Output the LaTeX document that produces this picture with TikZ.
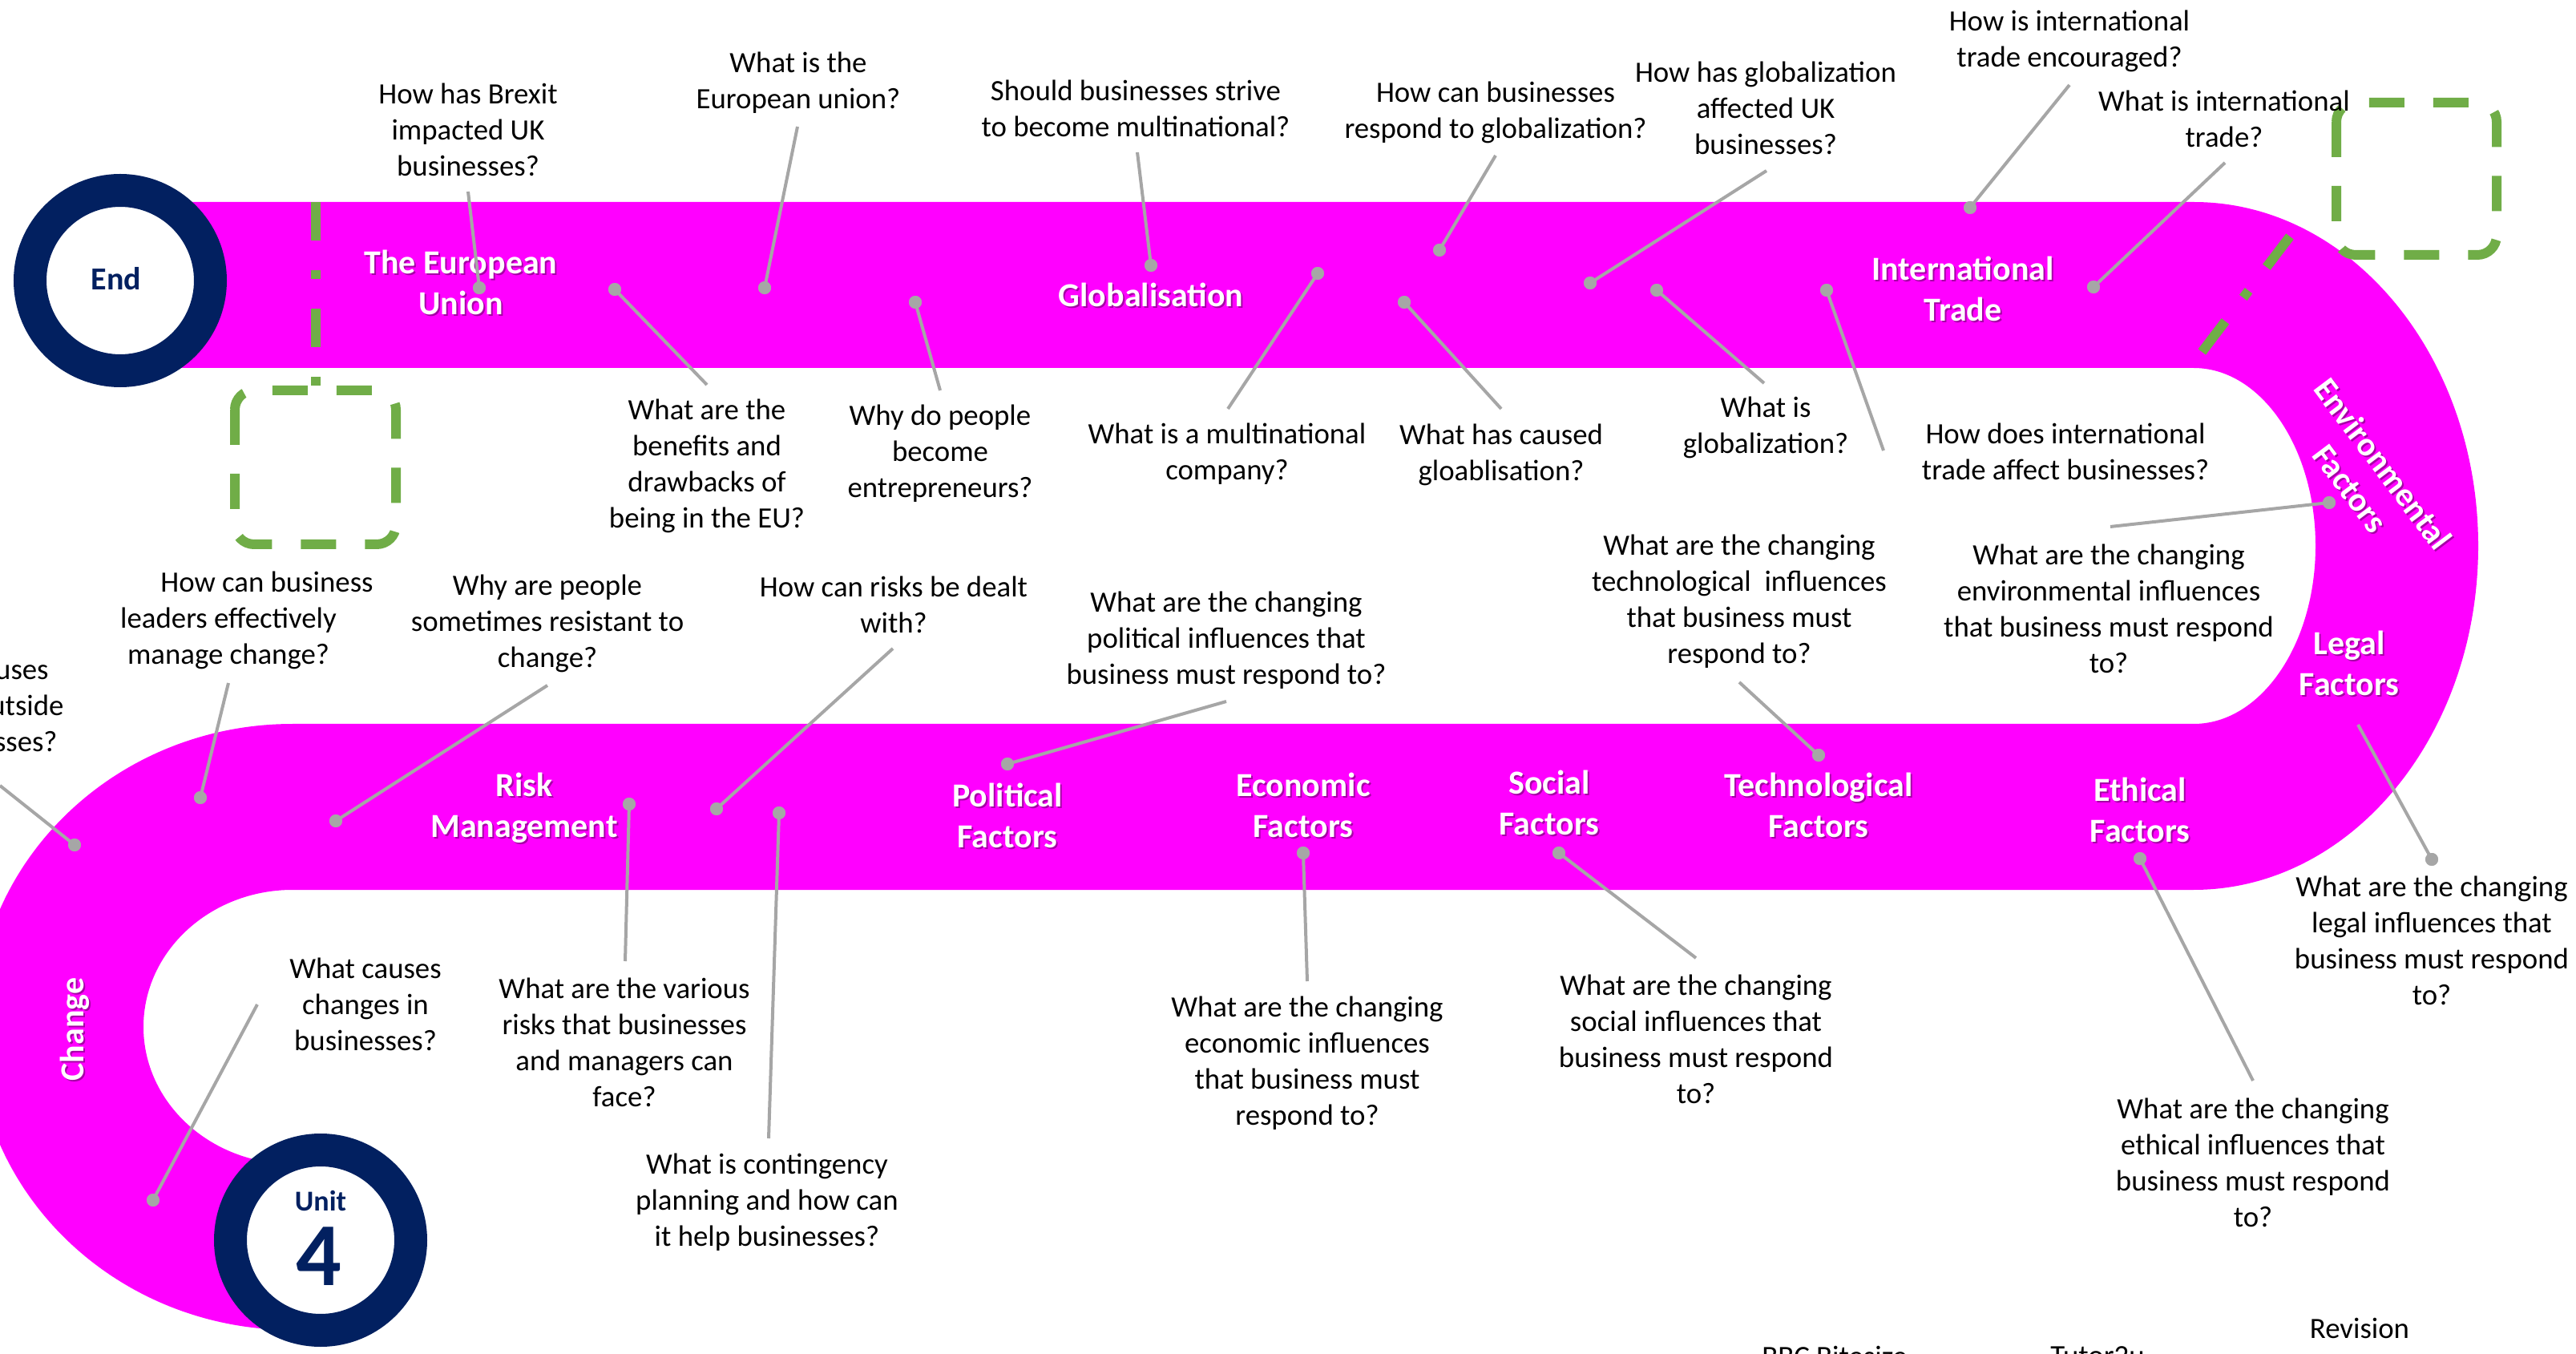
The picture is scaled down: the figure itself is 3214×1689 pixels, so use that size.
\documentclass[tikz,border=0pt]{standalone}
\usepackage{fontspec}
\setmainfont{Carlito}
\usetikzlibrary{calc}
\definecolor{mag}{RGB}{255,0,255}
\definecolor{navy}{RGB}{2,32,96}
\definecolor{lgrey}{RGB}{166,166,166}
\definecolor{ggreen}{RGB}{112,173,71}
\newcommand\qfont{\fontsize{18.4}{22.5}\selectfont}
\newcommand\bfont{\bfseries\fontsize{21}{25.5}\selectfont}
\newcommand\bandlabel[4]{%
  \node[blsh,#3] (#1s) at ($#2+(2,2)$) {#4};
  \node[bl,#3] (#1) at #2 {#4};}
\begin{document}
\begin{tikzpicture}[x=0.5pt,y=-0.5pt,
  q/.style={font=\qfont, align=center, inner sep=0pt, text=black},
  bl/.style={font=\bfont, align=center, inner sep=0pt, text=white},
  blsh/.style={font=\bfont, align=center, inner sep=0pt, text=black, text opacity=0.35},
  conn/.style={draw=lgrey, line width=2pt},
  dotn/.style={circle, fill=lgrey, inner sep=0pt, minimum size=8pt},
  ring/.style={circle, draw=navy, line width=20.5pt, fill=white, minimum size=112.5pt, inner sep=0pt},
  gdd/.style={draw=ggreen, line width=6pt, dash pattern=on 24pt off 18.5pt on 5.5pt off 18.5pt},
  gbox/.style={draw=ggreen, line width=6pt, rounded corners=12pt, dash pattern=on 22pt off 18pt}]
\useasboundingbox (0,0) rectangle (3214,1689);
% road
\fill[mag] (200,252) -- (2737,252) arc[start angle=-90, end angle=90, x radius=355, y radius=429]
  -- (365,1110) arc[start angle=270, end angle=90, x radius=186, y radius=171]
  -- (430,1452) -- (430,1659) -- (365,1659)
  arc[start angle=90, end angle=270, x radius=396, y radius=378]
  -- (2737,903) arc[start angle=90, end angle=-90, x radius=152, y radius=222]
  -- (200,459) -- cycle;
% green markers
\draw[gdd] (394,252) -- (394,487);
\draw[gbox] (293,487) rectangle (494,679);
\draw[gbox] (2915,128) rectangle (3115,318);
\draw[gdd] (2857,295) -- (2745,442);
% end / unit circles
\node[ring] (endc) at (150,350) {};
\node[font=\bfseries\fontsize{20}{24}\selectfont, text=navy, inner sep=0pt] (endt) at (145,348) {End};
\node[ring] (unitc) at (400,1547) {};
\node[font=\bfseries\fontsize{18}{20}\selectfont, text=navy, inner sep=0pt] (unitt) at (400,1498) {Unit};
\node[font=\bfseries\fontsize{56}{60}\selectfont, text=navy, inner sep=0pt] (unit4) at (398,1567) {4};
% band labels
\bandlabel{b1}{(575,352)}{}{The European\\Union}
\bandlabel{b2}{(1436,368)}{}{Globalisation}
\bandlabel{b3}{(2449,360)}{}{International\\Trade}
\bandlabel{b4}{(2953,594)}{rotate=-53}{Environmental\\Factors}
\bandlabel{b5}{(2931,827)}{}{Legal\\Factors}
\bandlabel{b6}{(2670,1010)}{}{Ethical\\Factors}
\bandlabel{b7}{(2269,1004)}{}{Technological\\Factors}
\bandlabel{b8}{(1933,1001)}{}{Social\\Factors}
\bandlabel{b9}{(1626,1004)}{}{Economic\\Factors}
\bandlabel{b10}{(1257,1017)}{}{Political\\Factors}
\bandlabel{b11}{(654,1008)}{}{Risk\\Management}
\bandlabel{b12}{(93,1284)}{rotate=90}{Change}
% questions
\node[q] (q1) at (584,162) {How has Brexit\\impacted UK\\businesses?};
\node[q] (q2) at (996,103) {What is the\\European union?};
\node[q] (q3) at (882,581) {What are the\\benefits and\\drawbacks of\\being in the EU?};
\node[q] (q4) at (1417,135) {Should businesses strive\\to become multinational?};
\node[q] (q5) at (1866,140) {How can businesses\\respond to globalization?};
\node[q] (q6) at (1173,566) {Why do people\\become\\entrepreneurs?};
\node[q] (q7) at (1531,566) {What is a multinational\\company?};
\node[q] (q8) at (1873,567) {What has caused\\gloablisation?};
\node[q] (q9) at (2203,135) {How has globalization\\affected UK\\businesses?};
\node[q] (q10) at (2203,533) {What is\\globalization?};
\node[q] (q11) at (2582,51) {How is international\\trade encouraged?};
\node[q] (q12) at (2775,148) {What is international\\trade?};
\node[q] (q13) at (2577,563) {How does international\\trade affect businesses?};
\node[q] (q14) at (2631,759) {What are the changing\\environmental influences\\that business must respond\\to?};
\node[q] (q15) at (2170,750) {What are the changing\\technological\ \ influences\\that business must\\respond to?};
\node[q] (q16) at (3034,1173) {What are the changing\\legal influences that\\business must respond\\to?};
\node[q] (q17) at (2811,1450) {What are the changing\\ethical influences that\\business must respond\\to?};
\node[q] (q18) at (2116,1296) {What are the changing\\social influences that\\business must respond\\to?};
\node[q] (q19) at (1631,1326) {What are the changing\\economic influences\\that business must\\respond to?};
\node[q] (q20) at (1530,799) {What are the changing\\political influences that\\business must respond to?};
\node[q] (q21) at (1115,754) {How can risks be dealt\\with?};
\node[q] (q22) at (957,1500) {What is contingency\\planning and how can\\it help businesses?};
\node[q] (q23) at (779,1300) {What are the various\\risks that businesses\\and managers can\\face?};
\node[q] (q24) at (683,778) {Why are people\\sometimes resistant to\\change?};
\node[q] (q25) at (285,774) {\hspace*{48pt}How can business\\leaders effectively\\manage change?};
\node[q, align=right, anchor=east] (q26) at (80,880) {What causes\hspace*{9.5pt}\\changes from outside\\businesses?\hspace*{4pt}};
\node[q] (q27) at (456,1253) {What causes\\changes in\\businesses?};
\node[q] (s1) at (2289,1692) {BBC Bitesize};
\node[q] (s2) at (2617,1692) {Tutor2u};
\node[q] (s3) at (2944,1657) {Revision};
% connectors
\foreach \i/\a/\b in {1/{584,239}/{598,359}, 2/{995,158}/{954,359}, 3/{882,480}/{767,361},
  4/{1419,190}/{1436,331}, 5/{1866,194}/{1796,312}, 6/{1173,487}/{1142,377},
  7/{1532,510}/{1644,341}, 8/{1873,510}/{1752,377}, 9/{2204,213}/{1984,353},
  10/{2201,478}/{2067,362}, 11/{2582,106}/{2458,259}, 12/{2776,203}/{2612,358},
  13/{2350,562}/{2279,362}, 14/{2633,657}/{2906,627}, 15/{2170,851}/{2269,942},
  16/{2942,904}/{3034,1072}, 17/{2811,1348}/{2670,1071}, 18/{2116,1195}/{1945,1064},
  19/{1631,1224}/{1626,1064}, 20/{1530,875}/{1257,953}, 21/{1114,809}/{894,1009},
  22/{959,1420}/{972,1014}, 23/{780,1199}/{785,1003}, 24/{683,855}/{419,1024},
  25/{285,852}/{250,995}, 26/{0,980}/{93,1054}, 27/{321,1253}/{191,1497}}{
  \coordinate (c\i) at (\a);
  \node[dotn] (d\i) at (\b) {};
  \draw[conn] (c\i) -- (d\i.center);
  \node[dotn] at (d\i) {};
}
\end{tikzpicture}
\end{document}
